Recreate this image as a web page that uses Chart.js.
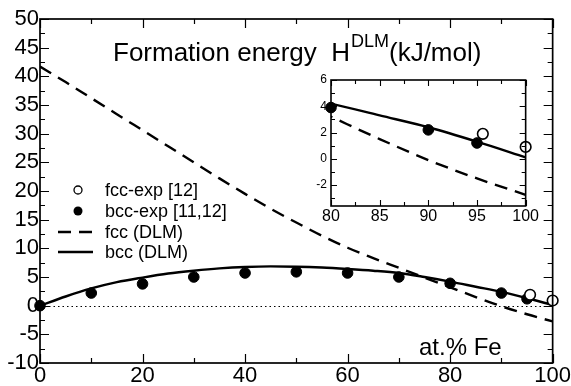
<!DOCTYPE html>
<html>
<head>
<meta charset="utf-8">
<script src="https://cdn.jsdelivr.net/npm/chart.js@4"></script>
<style>
  body { margin: 0; background: #fff; }
  #wrap { position: relative; width: 571px; height: 386px; }
  #mainChart { position: absolute; left: 0; top: 0; }
  #insetChart { position: absolute; left: 300px; top: 66px; }
</style>
</head>
<body>
<div id="wrap">
  <canvas id="mainChart" width="571" height="386"></canvas>
  <canvas id="insetChart" width="240" height="160"></canvas>
</div>
<script>
// at.% Fe
var fracFe = [0, 5, 10, 15, 20, 25, 30, 35, 40, 45, 50, 55, 60, 65, 70, 75, 80, 85, 90, 95, 100];
// DLM curves, kJ/mol
var fccDLM = [41.7, 39.0, 36.2, 33.4, 30.6, 27.8, 25.0, 22.2, 19.5, 16.9, 14.5, 12.2, 10.1, 8.3, 6.6, 4.9, 3.2, 1.5, -0.1, -1.5, -2.75];
var bccDLM = [0, 1.6, 3.0, 4.1, 4.9, 5.6, 6.1, 6.5, 6.75, 6.85, 6.8, 6.65, 6.4, 6.1, 5.7, 5.0, 4.2, 3.3, 2.4, 1.3, 0.1];
// experiments
var bccExpX = [0, 10, 20, 30, 40, 50, 60, 70, 80, 90, 95];
var bccExpY = [0, 2.2, 3.8, 5.0, 5.7, 5.9, 5.7, 5.0, 3.9, 2.2, 1.2];
var fccExpX = [95.6, 100];
var fccExpY = [1.9, 0.9];

var legendLabels = ['fcc-exp [12]', 'bcc-exp [11,12]', 'fcc (DLM)', 'bcc (DLM)'];
var titleMain = 'Formation energy  H';
var titleSup = 'DLM';
var titleUnit = '(kJ/mol)';
var xLabel = 'at.% Fe';

var FONT = '"Liberation Sans", Arial, sans-serif';

function pts(xs, ys, xmin) {
	var out = [];
	for (var i = 0; i < xs.length; i++) {
		if (xmin == null || xs[i] >= xmin) out.push({x: xs[i], y: ys[i]});
	}
	return out;
}

function makeDatasets(xmin, r) {
	return [
		{ label: legendLabels[0], data: pts(fccExpX, fccExpY, xmin), showLine: false,
		  pointRadius: r, pointBackgroundColor: '#fff', pointBorderColor: '#000', pointBorderWidth: 1.6, clip: false, order: 0 },
		{ label: legendLabels[1], data: pts(bccExpX, bccExpY, xmin), showLine: false,
		  pointRadius: r, pointBackgroundColor: '#000', pointBorderColor: '#000', pointBorderWidth: 1, clip: false, order: 1 },
		{ label: legendLabels[2], data: pts(fracFe, fccDLM), showLine: true, pointRadius: 0,
		  borderColor: '#000', borderWidth: 2.4, borderDash: [13, 8], cubicInterpolationMode: 'monotone', order: 2 },
		{ label: legendLabels[3], data: pts(fracFe, bccDLM), showLine: true, pointRadius: 0,
		  borderColor: '#000', borderWidth: 2.4, cubicInterpolationMode: 'monotone', order: 3 }
	];
}

// ticks pointing inside, on all four sides, plus the frame
function innerTicks(opt) {
	return {
		id: 'innerTicks',
		afterDraw: function(chart) {
			var ctx = chart.ctx, a = chart.chartArea;
			var xs = chart.scales.x, ys = chart.scales.y;
			ctx.save();
			ctx.strokeStyle = '#000';
			ctx.lineWidth = opt.lw;
			ctx.beginPath();
			var v, len, p;
			for (v = xs.min; v <= xs.max + 1e-9; v += opt.xMinor) {
				len = (Math.abs(v / opt.xMajor - Math.round(v / opt.xMajor)) < 1e-6) ? opt.major : opt.minor;
				p = Math.round(xs.getPixelForValue(v)) + 0.5;
				ctx.moveTo(p, a.bottom); ctx.lineTo(p, a.bottom - len);
				ctx.moveTo(p, a.top); ctx.lineTo(p, a.top + len);
			}
			var y0 = Math.ceil(ys.min / opt.yMinor) * opt.yMinor;
			for (v = y0; v <= ys.max + 1e-9; v += opt.yMinor) {
				len = (Math.abs(v / opt.yMajor - Math.round(v / opt.yMajor)) < 1e-6) ? opt.major : opt.minor;
				p = Math.round(ys.getPixelForValue(v)) + 0.5;
				ctx.moveTo(a.left, p); ctx.lineTo(a.left + len, p);
				ctx.moveTo(a.right, p); ctx.lineTo(a.right - len, p);
			}
			ctx.stroke();
			ctx.lineWidth = opt.frame;
			ctx.strokeRect(a.left, a.top, a.right - a.left, a.bottom - a.top);
			ctx.restore();
		}
	};
}

var zeroLine = {
	id: 'zeroLine',
	beforeDatasetsDraw: function(chart) {
		var ctx = chart.ctx, a = chart.chartArea;
		var p = Math.round(chart.scales.y.getPixelForValue(0)) + 0.5;
		ctx.save();
		ctx.strokeStyle = '#000';
		ctx.lineWidth = 1;
		ctx.setLineDash([1.5, 3]);
		ctx.beginPath();
		ctx.moveTo(a.left, p); ctx.lineTo(a.right, p);
		ctx.stroke();
		ctx.restore();
	}
};

var mainText = {
	id: 'mainText',
	afterDraw: function(chart) {
		var ctx = chart.ctx;
		ctx.save();
		ctx.fillStyle = '#000';
		ctx.textBaseline = 'alphabetic';
		// title
		ctx.font = '26px ' + FONT;
		var tx = 113;
		ctx.fillText(titleMain, tx, 61);
		tx += ctx.measureText(titleMain).width + 1;
		ctx.font = '18px ' + FONT;
		ctx.fillText(titleSup, tx, 47);
		tx += ctx.measureText(titleSup).width;
		ctx.font = '26px ' + FONT;
		ctx.fillText(titleUnit, tx, 61);
		// axis name
		ctx.font = '24px ' + FONT;
		ctx.fillText(xLabel, 419, 355);
		// legend
		var rows = [190, 211, 232, 252];
		ctx.strokeStyle = '#000';
		ctx.beginPath();
		ctx.lineWidth = 1.3;
		ctx.arc(78, rows[0], 4, 0, Math.PI * 2);
		ctx.stroke();
		ctx.beginPath();
		ctx.arc(78, rows[1], 4.5, 0, Math.PI * 2);
		ctx.fill();
		ctx.lineWidth = 2.4;
		ctx.setLineDash([13, 8]);
		ctx.beginPath();
		ctx.moveTo(58, rows[2]); ctx.lineTo(93, rows[2]);
		ctx.stroke();
		ctx.setLineDash([]);
		ctx.beginPath();
		ctx.moveTo(58, rows[3]); ctx.lineTo(93, rows[3]);
		ctx.stroke();
		ctx.font = '18px ' + FONT;
		ctx.textBaseline = 'middle';
		for (var i = 0; i < legendLabels.length; i++) {
			ctx.fillText(legendLabels[i], 105, rows[i] + 1);
		}
		ctx.restore();
	}
};

new Chart(document.getElementById('mainChart'), {
	type: 'scatter',
	data: { datasets: makeDatasets(null, 5.3) },
	options: {
		responsive: false,
		animation: false,
		layout: { padding: { top: 19, right: 14, left: 0, bottom: 0 } },
		plugins: { legend: { display: false }, tooltip: { enabled: false } },
		scales: {
			x: {
				type: 'linear', min: 0, max: 100,
				ticks: { stepSize: 20, autoSkip: false, color: '#000', font: { family: FONT, size: 22 }, padding: 0, maxRotation: 0 },
				grid: { display: false, drawTicks: false },
				border: { display: false },
				afterFit: function(s) { s.height = 23; }
			},
			y: {
				type: 'linear', min: -10, max: 50,
				ticks: { stepSize: 5, autoSkip: false, color: '#000', font: { family: FONT, size: 22 }, padding: 1 },
				grid: { display: false, drawTicks: false },
				border: { display: false },
				afterFit: function(s) { s.width = 40; }
			}
		}
	},
	plugins: [zeroLine, innerTicks({ xMajor: 20, xMinor: 10, yMajor: 5, yMinor: 2.5, major: 9, minor: 5, lw: 1.2, frame: 1.7 }), mainText]
});

new Chart(document.getElementById('insetChart'), {
	type: 'scatter',
	data: { datasets: makeDatasets(80, 5.3) },
	options: {
		responsive: false,
		animation: false,
		layout: { padding: { top: 14, right: 14, left: 0, bottom: 0 } },
		plugins: { legend: { display: false }, tooltip: { enabled: false } },
		scales: {
			x: {
				type: 'linear', min: 80, max: 100,
				ticks: { stepSize: 5, autoSkip: false, color: '#000', font: { family: FONT, size: 16 }, padding: 1, maxRotation: 0 },
				grid: { display: false, drawTicks: false },
				border: { display: false },
				afterFit: function(s) { s.height = 20; }
			},
			y: {
				type: 'linear', min: -3.6, max: 6,
				afterBuildTicks: function(s) {
					s.ticks = [-2, 0, 2, 4, 6].map(function(v) { return { value: v }; });
				},
				ticks: { autoSkip: false, color: '#000', font: { family: FONT, size: 12 }, padding: 4 },
				grid: { display: false, drawTicks: false },
				border: { display: false },
				afterFit: function(s) { s.width = 31; }
			}
		}
	},
	plugins: [innerTicks({ xMajor: 5, xMinor: 2.5, yMajor: 2, yMinor: 1, major: 6, minor: 4, lw: 1.1, frame: 1.6 })]
});
</script>
</body>
</html>
